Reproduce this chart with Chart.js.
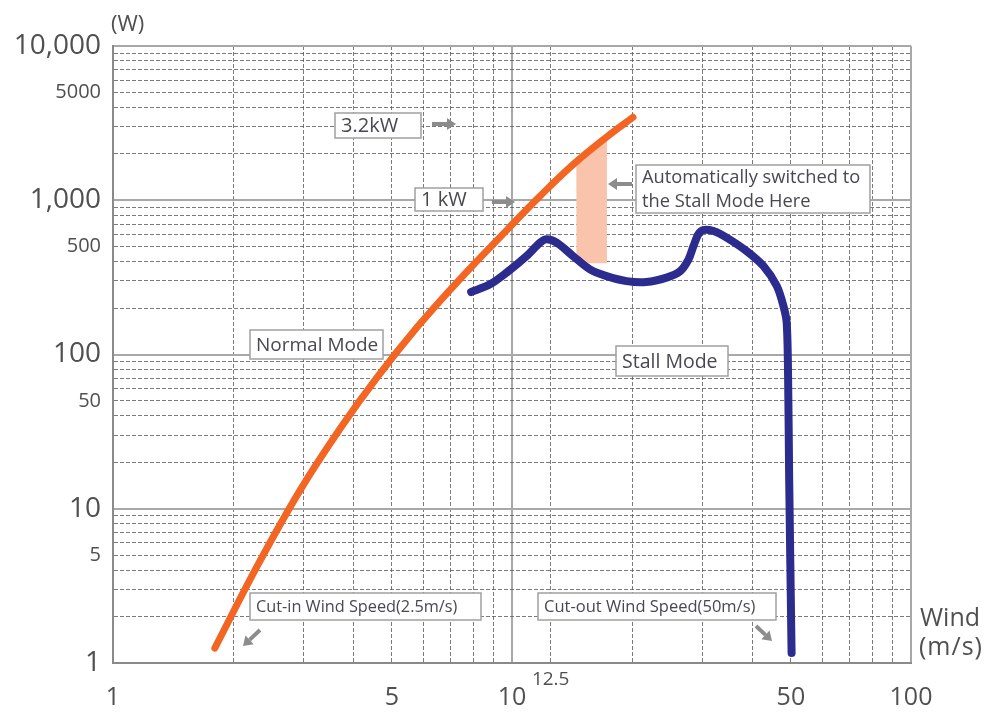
<!DOCTYPE html>
<html>
<head>
<meta charset="utf-8">
<script src="https://cdn.jsdelivr.net/npm/chart.js@4.4.0/dist/chart.umd.min.js"></script>
<style>
  html, body { margin: 0; padding: 0; background: #fff; }
  canvas { display: block; }
</style>
</head>
<body>
<canvas id="chart" width="989" height="712"></canvas>
<script>
'use strict';

// wind speed (m/s) and output (W)
const normalSpeed = [1.8, 2.3, 2.94, 3.71, 4.59, 5.78, 7.28, 9.72, 11.76, 14.22, 17.3, 20.1];
const normalPower = [1.25, 4.26, 13.1, 33.1, 71, 150, 294, 643, 1065, 1702, 2582, 3450];

const stallSpeed = [7.9, 8.81, 9.7, 10.88, 11.76, 12.22, 12.94, 14.22, 15.68, 17.26, 19.37, 21.7,
  24.4, 26.4, 27.7, 28.5, 29.3, 30.1, 32.0, 34.5, 38.7, 42.7, 46.1, 47.9, 48.8, 49.2, 49.5, 50.2];
const stallPower = [254, 285, 340, 435, 531, 558, 531, 435, 356, 322, 299, 295,
  315, 347, 414, 505, 601, 641, 632, 573, 469, 374, 278, 206, 161, 72, 16.2, 1.16];

// shaded band where it switches to stall mode
const switchSpeed = [14.5, 14.5, 17.3, 17.3];
const switchPower = [390, 1790, 2580, 390];

const speedTicks = [1, 2, 3, 4, 5, 6, 7, 8, 9, 10, 12.5, 20, 30, 40, 50, 60, 70, 80, 90, 100];
const powerTicks = [1, 2, 3, 4, 5, 6, 7, 8, 9,
  10, 20, 30, 40, 50, 60, 70, 80, 90,
  100, 200, 300, 400, 500, 600, 700, 800, 900,
  1000, 2000, 3000, 4000, 5000, 6000, 7000, 8000, 9000, 10000];

const speedLabelValues = [1, 5, 10, 12.5, 50, 100];
const speedLabels = ['1', '5', '10', '12.5', '50', '100'];
const powerLabelValues = [1, 5, 10, 50, 100, 500, 1000, 5000, 10000];
const powerLabels = ['1', '5', '10', '50', '100', '500', '1,000', '5000', '10,000'];

const FONT = "'Open Sans', 'DejaVu Sans', sans-serif";
const TEXT = '#505050';

function toPoints(xs, ys) {
  return xs.map((x, i) => ({ x: x, y: ys[i] }));
}

function isDecade(v) {
  const l = Math.log10(v);
  return Math.abs(l - Math.round(l)) < 1e-9;
}

function gridColor(ctx) {
  if (!ctx.tick) return '#999';
  return isDecade(ctx.tick.value) ? '#a8a8a8' : 'rgba(90,90,90,0.8)';
}
function gridWidth(ctx) {
  if (!ctx.tick) return 1;
  return isDecade(ctx.tick.value) ? 2 : 1;
}
function gridDash(ctx) {
  if (!ctx.tick) return [];
  return isDecade(ctx.tick.value) ? [] : [4, 2];
}

// text boxes and arrows laid over the plot
const notes = [
  { lines: ['3.2kW'], x: 335, y: 113, w: 86, h: 25, size: 20 },
  { lines: ['1 kW'], x: 415, y: 188, w: 68, h: 23, size: 20 },
  { lines: ['Automatically switched to', 'the Stall Mode Here'], x: 636, y: 165, w: 234, h: 48, size: 18.3 },
  { lines: ['Normal Mode'], x: 250, y: 330, w: 133, h: 29, size: 19 },
  { lines: ['Stall Mode'], x: 616, y: 346, w: 112, h: 30, size: 19.5 },
  { lines: ['Cut-in Wind Speed(2.5m/s)'], x: 250, y: 593, w: 231, h: 27, size: 16.3 },
  { lines: ['Cut-out Wind Speed(50m/s)'], x: 538, y: 593, w: 238, h: 27, size: 16.5 }
];
const arrows = [
  [432, 124, 456, 124],
  [492, 202, 515, 202],
  [632, 184, 608, 184],
  [260, 630, 243, 646],
  [756, 626, 772, 641]
];

function drawArrow(ctx, x1, y1, x2, y2) {
  const a = Math.atan2(y2 - y1, x2 - x1);
  const head = 9, half = 6;
  const bx = x2 - head * Math.cos(a), by = y2 - head * Math.sin(a);
  ctx.strokeStyle = '#8c8c8c';
  ctx.fillStyle = '#8c8c8c';
  ctx.lineWidth = 4;
  ctx.beginPath();
  ctx.moveTo(x1, y1);
  ctx.lineTo(bx, by);
  ctx.stroke();
  ctx.beginPath();
  ctx.moveTo(x2, y2);
  ctx.lineTo(bx + half * Math.sin(a), by - half * Math.cos(a));
  ctx.lineTo(bx - half * Math.sin(a), by + half * Math.cos(a));
  ctx.closePath();
  ctx.fill();
}

const notesPlugin = {
  id: 'notes',
  afterDraw(chart) {
    const ctx = chart.ctx;
    ctx.save();
    notes.forEach(n => {
      ctx.fillStyle = '#fff';
      ctx.fillRect(n.x, n.y, n.w, n.h);
      ctx.strokeStyle = '#a0a0a0';
      ctx.lineWidth = 1.5;
      ctx.strokeRect(n.x, n.y, n.w, n.h);
      ctx.fillStyle = '#484850';
      ctx.font = n.size + 'px ' + FONT;
      ctx.textAlign = 'left';
      ctx.textBaseline = 'middle';
      const step = n.h / n.lines.length;
      n.lines.forEach((t, i) => ctx.fillText(t, n.x + 6, n.y + step * (i + 0.5) + 1));
    });
    arrows.forEach(a => drawArrow(ctx, a[0], a[1], a[2], a[3]));

    ctx.fillStyle = TEXT;
    ctx.textAlign = 'left';
    ctx.textBaseline = 'alphabetic';
    ctx.font = '22px ' + FONT;
    ctx.fillText('(W)', 111, 31);
    ctx.font = '25px ' + FONT;
    ctx.fillText('Wind', 920, 626);
    ctx.letterSpacing = '1px';
    ctx.fillText('(m/s)', 919, 655);
    ctx.restore();
  }
};

new Chart(document.getElementById('chart'), {
  type: 'scatter',
  data: {
    datasets: [
      {
        label: 'Normal Mode',
        data: toPoints(normalSpeed, normalPower),
        showLine: true,
        borderColor: '#f26522',
        borderWidth: 7,
        borderCapStyle: 'round',
        tension: 0.4,
        pointRadius: 0,
        order: 0
      },
      {
        label: 'Stall Mode',
        data: toPoints(stallSpeed, stallPower),
        showLine: true,
        borderColor: '#2b2c8e',
        borderWidth: 8,
        borderCapStyle: 'round',
        borderJoinStyle: 'round',
        tension: 0.3,
        pointRadius: 0,
        order: 1
      },
      {
        label: 'Switch',
        data: toPoints(switchSpeed, switchPower),
        showLine: true,
        borderWidth: 0,
        borderColor: 'rgba(0,0,0,0)',
        backgroundColor: '#f9c4ab',
        fill: 'shape',
        tension: 0,
        pointRadius: 0,
        order: 2
      }
    ]
  },
  options: {
    responsive: false,
    animation: false,
    layout: { padding: { left: 0, top: 46, right: 78, bottom: 0 } },
    plugins: {
      legend: { display: false },
      tooltip: { enabled: false }
    },
    scales: {
      x: {
        type: 'logarithmic',
        min: 1,
        max: 100,
        afterBuildTicks: s => { s.ticks = speedTicks.map(v => ({ value: v })); },
        afterFit: s => { s.height = 49; },
        grid: { color: gridColor, lineWidth: gridWidth, drawTicks: false },
        border: { color: '#8a8a8a', width: 2, dash: gridDash },
        ticks: {
          autoSkip: false,
          maxRotation: 0,
          padding: 6,
          color: TEXT,
          font: c => (c.tick && c.tick.value === 12.5)
            ? { family: FONT, size: 19, lineHeight: 1.1 }
            : { family: FONT, size: 25, lineHeight: 2.3 },
          callback: v => {
            const i = speedLabelValues.indexOf(v);
            return i < 0 ? '' : speedLabels[i];
          }
        }
      },
      y: {
        type: 'logarithmic',
        min: 1,
        max: 10000,
        afterBuildTicks: s => { s.ticks = powerTicks.map(v => ({ value: v })); },
        afterFit: s => { s.width = 113; },
        grid: { color: gridColor, lineWidth: gridWidth, drawTicks: false },
        border: { color: '#8a8a8a', width: 2, dash: gridDash },
        ticks: {
          autoSkip: false,
          padding: 12,
          color: TEXT,
          font: c => (c.tick && isDecade(c.tick.value))
            ? { family: FONT, size: 28 }
            : { family: FONT, size: 20 },
          callback: v => {
            const i = powerLabelValues.indexOf(v);
            return i < 0 ? '' : powerLabels[i];
          }
        }
      }
    }
  },
  plugins: [notesPlugin]
});
</script>
</body>
</html>
